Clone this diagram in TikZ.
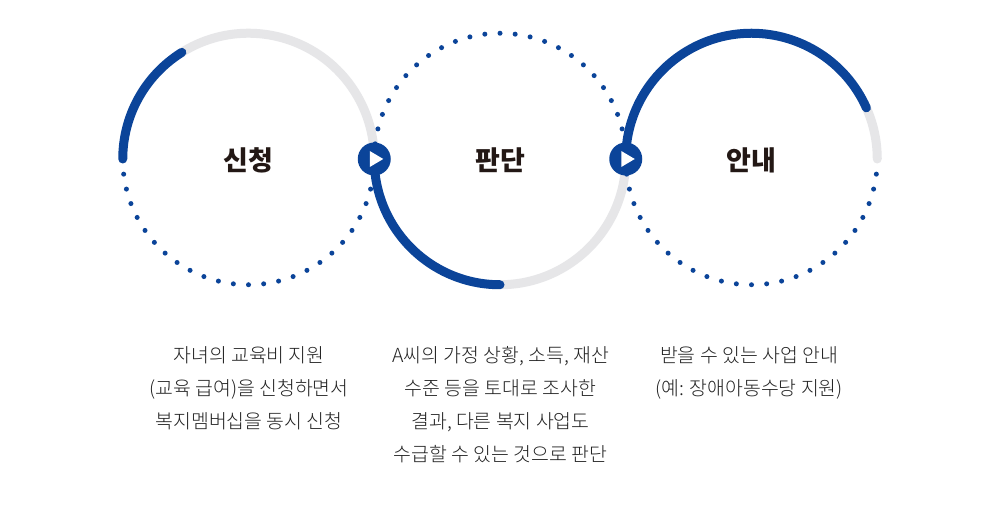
\documentclass[tikz,border=0pt]{standalone}
\usepackage{fontspec}
\newfontfamily\krfont{Noto Sans CJK KR}
\IfFontExistsTF{Noto Sans CJK KR Light}
  {\newfontfamily\krlight{Noto Sans CJK KR Light}}
  {\newfontfamily\krlight{Noto Sans CJK KR}}
\definecolor{stepblue}{HTML}{0B4499}
\definecolor{trackgray}{HTML}{E6E6E8}
\definecolor{inkdark}{HTML}{231815}
\definecolor{inkbody}{HTML}{222222}
\begin{document}
\begin{tikzpicture}[x=1pt,y=1pt,
  track/.style={trackgray, line width=9pt},
  progress/.style={stepblue, line width=9pt, line cap=round},
  marker/.style={circle, fill=stepblue, minimum size=33pt, inner sep=0pt},
  title/.style={font=\krfont\bfseries\fontsize{27}{30}\selectfont, text=inkdark, inner sep=0pt},
  body/.style={font=\krlight\fontsize{19.4}{33}\selectfont, text=inkbody, align=center, inner sep=0pt, anchor=north}]
\useasboundingbox (0,0) rectangle (1000,516);
\fill[white] (0,0) rectangle (1000,516);
\def\rad{125.75}
\coordinate (c1) at (248.5,357);
\coordinate (c2) at (500,357);
\coordinate (c3) at (751.5,357);
% gray tracks
\draw[track] (c1) ++(122:\rad) arc[start angle=122, end angle=0, radius=\rad];
\draw[track] (c2) ++(270:\rad) arc[start angle=270, end angle=360, radius=\rad];
\draw[track, line cap=round] (c3) ++(24:\rad) arc[start angle=24, end angle=0, radius=\rad];
% blue parts
\draw[progress] (c1) ++(180:\rad) arc[start angle=180, end angle=122, radius=\rad];
\draw[progress] (c2) ++(180:\rad) arc[start angle=180, end angle=270, radius=\rad];
\draw[progress] (c3) ++(180:\rad) arc[start angle=180, end angle=24, radius=\rad];
% dotted halves
\foreach \k in {1,...,25} {
  \fill[stepblue] (c1) ++({180+\k*180/26}:\rad) circle[radius=2.5];
  \fill[stepblue] (c2) ++({\k*180/26}:\rad) circle[radius=2.5];
  \fill[stepblue] (c3) ++({180+\k*180/26}:\rad) circle[radius=2.5];
}
% markers
\node[marker] (m1) at (374.25,357) {};
\node[marker] (m2) at (625.75,357) {};
\foreach \m in {m1,m2}
  \fill[white] (\m.center) ++(-4.5,8) -- ++(13.5,-8) -- ++(-13.5,-8) -- cycle;
% titles
\node[title] (t1) at ([yshift=-1pt]c1) {신청};
\node[title] (t2) at ([yshift=-1pt]c2) {판단};
\node[title] (t3) at ([yshift=-1pt]c3) {안내};
% descriptions
\node[body] (d1) at (249,170) {자녀의 교육비 지원\\(교육 급여)을 신청하면서\\복지멤버십을 동시 신청};
\node[body] (d2) at (500.5,170) {A씨의 가정 상황, 소득, 재산\\수준 등을 토대로 조사한\\결과, 다른 복지 사업도\\수급할 수 있는 것으로 판단};
\node[body] (d3) at (749,170) {받을 수 있는 사업 안내\\(예: 장애아동수당 지원)};
\end{tikzpicture}
\end{document}
